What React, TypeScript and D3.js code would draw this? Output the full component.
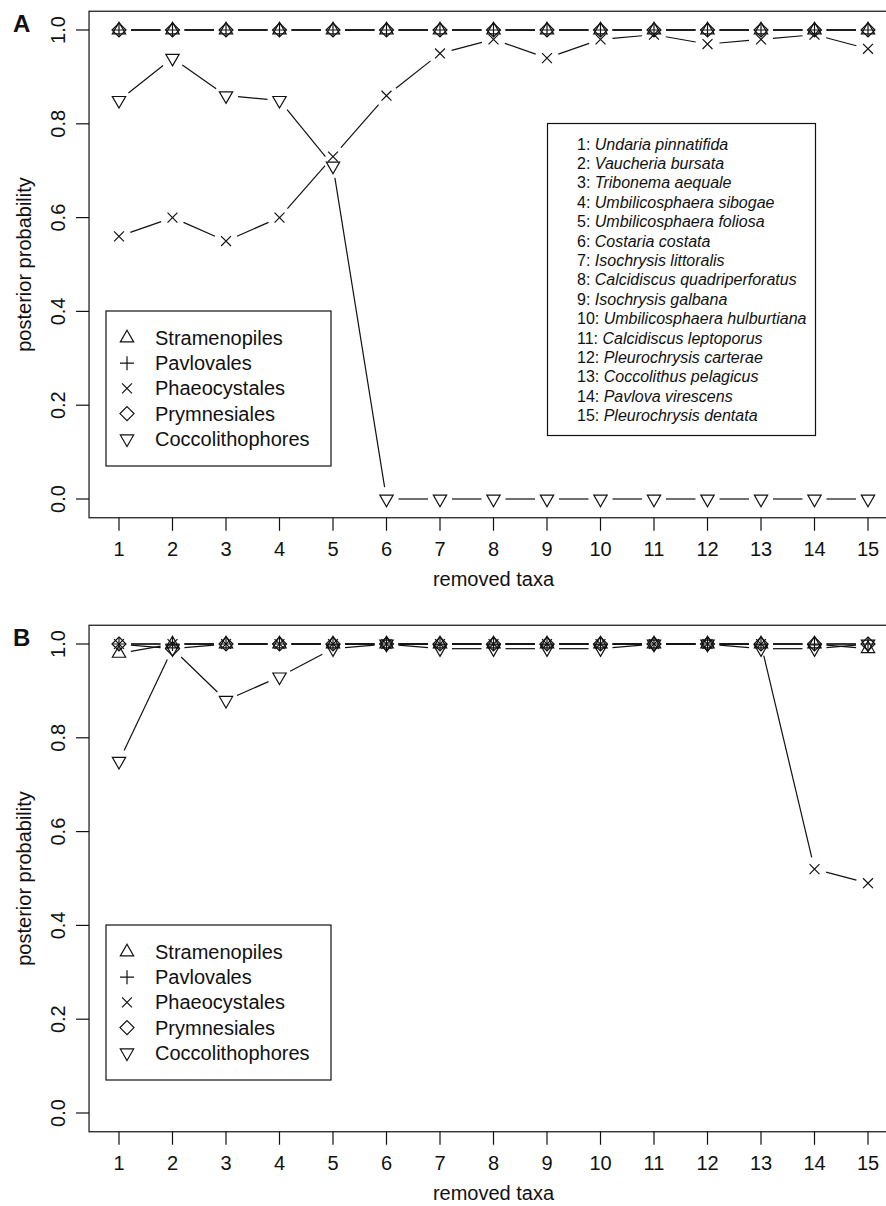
import React from "react";
import * as d3 from "d3";

// ---------- data ----------
const taxa = [1, 2, 3, 4, 5, 6, 7, 8, 9, 10, 11, 12, 13, 14, 15];
const yTicks = [0, 0.2, 0.4, 0.6, 0.8, 1.0];
const groupNames = ["Stramenopiles", "Pavlovales", "Phaeocystales", "Prymnesiales", "Coccolithophores"];
const groupShapes = ["triUp", "plus", "cross", "diamond", "triDown"];

// Panel A
const aStramenopiles = [1, 1, 1, 1, 1, 1, 1, 1, 1, 1, 1, 1, 1, 1, 1];
const aPavlovales = [1, 1, 1, 1, 1, 1, 1, 1, 1, 1, 1, 1, 1, 1, 1];
const aPhaeocystales = [0.56, 0.6, 0.55, 0.6, 0.73, 0.86, 0.95, 0.98, 0.94, 0.98, 0.99, 0.97, 0.98, 0.99, 0.96];
const aPrymnesiales = [1, 1, 1, 1, 1, 1, 1, 1, 1, 1, 1, 1, 1, 1, 1];
const aCoccolithophores = [0.85, 0.94, 0.86, 0.85, 0.71, 0, 0, 0, 0, 0, 0, 0, 0, 0, 0];

// Panel B
const bStramenopiles = [0.98, 1, 1, 1, 1, 1, 1, 1, 1, 1, 1, 1, 1, 1, 0.99];
const bPavlovales = [1, 1, 1, 1, 1, 1, 1, 1, 1, 1, 1, 1, 1, 1, 1];
const bPhaeocystales = [1, 1, 1, 1, 1, 1, 1, 1, 1, 1, 1, 1, 1, 0.52, 0.49];
const bPrymnesiales = [1, 0.99, 1, 1, 1, 1, 1, 1, 1, 1, 1, 1, 1, 1, 1];
const bCoccolithophores = [0.75, 0.99, 0.88, 0.93, 0.99, 1, 0.99, 0.99, 0.99, 0.99, 1, 1, 0.99, 0.99, 1];

const speciesList = [
  "Undaria pinnatifida",
  "Vaucheria bursata",
  "Tribonema aequale",
  "Umbilicosphaera sibogae",
  "Umbilicosphaera foliosa",
  "Costaria costata",
  "Isochrysis littoralis",
  "Calcidiscus quadriperforatus",
  "Isochrysis galbana",
  "Umbilicosphaera hulburtiana",
  "Calcidiscus leptoporus",
  "Pleurochrysis carterae",
  "Coccolithus pelagicus",
  "Pavlova virescens",
  "Pleurochrysis dentata",
];

const panelASeries = [aStramenopiles, aPavlovales, aPhaeocystales, aPrymnesiales, aCoccolithophores];
const panelBSeries = [bStramenopiles, bPavlovales, bPhaeocystales, bPrymnesiales, bCoccolithophores];

// ---------- styling ----------
const FONT = "'Liberation Sans', Arial, Helvetica, sans-serif";
const INK = "#111";
const LW = 1.2;
const R = 4.95;
const GAP = 12;

function Marker({ shape, x, y }: { shape: string; x: number; y: number }) {
  const common = { fill: "none", stroke: INK, strokeWidth: LW };
  if (shape === "triUp" || shape === "triDown") {
    const r = 1.555 * R;
    const xc = 0.866 * r;
    const yc = 0.5 * r;
    const s = shape === "triUp" ? 1 : -1;
    const pts = [
      [x, y - s * r],
      [x + xc, y + s * yc],
      [x - xc, y + s * yc],
    ];
    return <polygon points={pts.map((p) => p.join(",")).join(" ")} {...common} />;
  }
  if (shape === "diamond") {
    const h = Math.SQRT2 * R;
    const pts = [
      [x, y - h],
      [x + h, y],
      [x, y + h],
      [x - h, y],
    ];
    return <polygon points={pts.map((p) => p.join(",")).join(" ")} {...common} />;
  }
  if (shape === "plus") {
    const h = Math.SQRT2 * R;
    return <path d={`M${x - h},${y}H${x + h}M${x},${y - h}V${y + h}`} {...common} />;
  }
  // cross
  const h = R;
  return <path d={`M${x - h},${y - h}L${x + h},${y + h}M${x - h},${y + h}L${x + h},${y - h}`} {...common} />;
}

function Panel({ offset, letter, series, species }: { offset: number; letter: string; series: number[][]; species: boolean }) {
  const x = d3.scaleLinear().domain([0.44, 15.56]).range([89.04, 897.96]);
  const y = d3.scaleLinear().domain([-0.04, 1.04]).range([517.76 + offset, 11.24 + offset]);
  const left = x(0.44);
  const right = x(15.56);
  const top = y(1.04);
  const bottom = y(-0.04);

  const segs: JSX.Element[] = [];
  const marks: JSX.Element[] = [];
  series.forEach((vals, si) => {
    const pts = taxa.map((t, i) => [x(t), y(vals[i])]);
    for (let i = 0; i < pts.length - 1; i++) {
      const [x1, y1] = pts[i];
      const [x2, y2] = pts[i + 1];
      const dx = x2 - x1;
      const dy = y2 - y1;
      const L = Math.hypot(dx, dy);
      if (L <= 2 * GAP) continue;
      const ux = dx / L;
      const uy = dy / L;
      segs.push(
        <line
          key={`s${si}-${i}`}
          x1={x1 + ux * GAP}
          y1={y1 + uy * GAP}
          x2={x2 - ux * GAP}
          y2={y2 - uy * GAP}
          stroke={INK}
          strokeWidth={LW}
        />
      );
    }
    pts.forEach(([px, py], i) => {
      marks.push(<Marker key={`m${si}-${i}`} shape={groupShapes[si]} x={px} y={py} />);
    });
  });

  const legX0 = 106;
  const legX1 = 331;
  const legY0 = 311 + offset;
  const legY1 = 466 + offset;

  return (
    <g>
      <text x={13} y={32 + offset} fontSize={24} fontWeight="bold" fontFamily={FONT} fill={INK}>
        {letter}
      </text>
      {/* plot frame */}
      <rect x={left} y={top} width={right - left} height={bottom - top} fill="none" stroke={INK} strokeWidth={LW} />
      {/* y axis */}
      {yTicks.map((t) => (
        <g key={`y${t}`}>
          <line x1={left - 13} x2={left} y1={y(t)} y2={y(t)} stroke={INK} strokeWidth={LW} />
          <text
            transform={`translate(65,${y(t)}) rotate(-90)`}
            textAnchor="middle"
            fontSize={20}
            fontFamily={FONT}
            fill={INK}
          >
            {t.toFixed(1)}
          </text>
        </g>
      ))}
      <text
        transform={`translate(31,${y(0.5)}) rotate(-90)`}
        textAnchor="middle"
        fontSize={20}
        fontFamily={FONT}
        fill={INK}
      >
        posterior probability
      </text>
      {/* x axis */}
      {taxa.map((t) => (
        <g key={`x${t}`}>
          <line x1={x(t)} x2={x(t)} y1={bottom} y2={bottom + 13} stroke={INK} strokeWidth={LW} />
          <text x={x(t)} y={bottom + 38} textAnchor="middle" fontSize={20} fontFamily={FONT} fill={INK}>
            {t}
          </text>
        </g>
      ))}
      <text x={x(8)} y={bottom + 68} textAnchor="middle" fontSize={20} fontFamily={FONT} fill={INK}>
        removed taxa
      </text>
      {segs}
      {marks}
      {/* group legend */}
      <rect x={legX0} y={legY0} width={legX1 - legX0} height={legY1 - legY0} fill="white" stroke={INK} strokeWidth={LW} />
      {groupNames.map((n, i) => {
        const cy = 338 + offset + i * 25.2;
        return (
          <g key={n}>
            <Marker shape={groupShapes[i]} x={127} y={cy} />
            <text x={155} y={cy + 7} fontSize={20} fontFamily={FONT} fill={INK}>
              {n}
            </text>
          </g>
        );
      })}
      {species && (
        <g>
          <rect x={547.5} y={123.5} width={268} height={312} fill="white" stroke={INK} strokeWidth={LW} />
          {speciesList.map((s, i) => (
            <text key={s} x={577} y={144 + i * 19.4 + 5.5} fontSize={16} fontFamily={FONT} fill={INK}>
              {`${i + 1}: `}
              <tspan fontStyle="italic">{s}</tspan>
            </text>
          ))}
        </g>
      )}
    </g>
  );
}

export default function App() {
  return (
    <svg
      width={886}
      height={1206}
      viewBox="0 0 886 1206"
      style={{ position: "absolute", left: 0, top: 0, background: "white" }}
    >
      <rect x={0} y={0} width={886} height={1206} fill="white" />
      <Panel offset={0} letter="A" series={panelASeries} species={true} />
      <Panel offset={614} letter="B" series={panelBSeries} species={false} />
    </svg>
  );
}
